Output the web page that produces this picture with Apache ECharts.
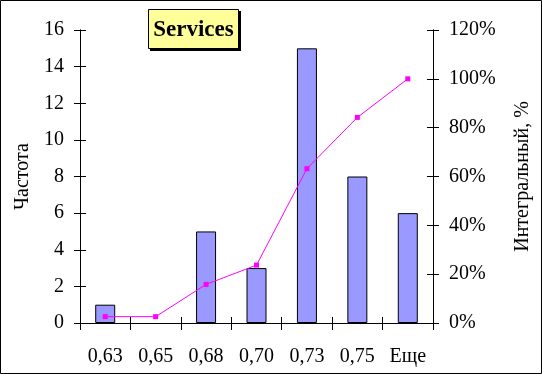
<!DOCTYPE html>
<html><head><meta charset="utf-8">
<script src="https://cdn.jsdelivr.net/npm/echarts@6/dist/echarts.min.js"></script>
<style>html,body{margin:0;padding:0;background:#fff}#c{width:542px;height:374px}</style>
</head><body><div id="c"></div>
<script>
const categories = ['0,63','0,65','0,68','0,70','0,73','0,75','Еще'];
const frequency = [1, 0, 5, 3, 15, 8, 6];
const cumulativePct = [2.6, 2.6, 15.8, 23.7, 63.2, 84.2, 100];
const leftTicks = {min: 0, max: 16, interval: 2};
const rightTicks = {min: 0, max: 120, interval: 20};
const titleText = 'Services';
const leftName = 'Частота';
const rightName = 'Интегральный, %';

const FONT = 'Liberation Serif';
const lbl = {color: '#000', fontFamily: FONT, fontSize: 20};
const line = {show: true, lineStyle: {color: '#000', width: 1}};
const barData = frequency.map(v => v === 0 ? {value: v, itemStyle: {borderWidth: 0, opacity: 0}} : v);
const chart = echarts.init(document.getElementById('c'), null, {renderer: 'canvas'});
chart.setOption({
  animation: false,
  grid: {left: 80, right: 109, top: 30, bottom: 51},
  xAxis: [
    {type: 'category', data: categories, boundaryGap: true, axisLine: line, z: 5,
     axisTick: {show: true, alignWithLabel: false, length: 7, lineStyle: {color: '#000'}},
     axisLabel: Object.assign({margin: 24}, lbl), splitLine: {show: false}},
    {type: 'category', data: categories, boundaryGap: true, position: 'bottom', axisLine: line, z: 5,
     axisTick: {show: true, inside: true, length: 6, lineStyle: {color: '#000'}},
     axisLabel: {show: false}, splitLine: {show: false}}
  ],
  yAxis: [
    Object.assign({type: 'value', position: 'left', axisLine: line,
     axisTick: {show: true, length: 6, lineStyle: {color: '#000'}},
     axisLabel: Object.assign({margin: 16}, lbl), splitLine: {show: false},
     name: leftName, nameLocation: 'middle', nameRotate: 90, nameGap: 44,
     nameTextStyle: {color: '#000', fontFamily: FONT, fontSize: 20}}, leftTicks),
    Object.assign({type: 'value', position: 'right', axisLine: line,
     axisTick: {show: true, length: 6, lineStyle: {color: '#000'}},
     axisLabel: Object.assign({margin: 16, formatter: '{value}%'}, lbl), splitLine: {show: false},
     name: rightName, nameLocation: 'middle', nameRotate: 90, nameGap: 80,
     nameTextStyle: {color: '#000', fontFamily: FONT, fontSize: 20}}, rightTicks),
    Object.assign({type: 'value', position: 'left', axisLine: line,
     axisTick: {show: true, inside: true, length: 6, lineStyle: {color: '#000'}},
     axisLabel: {show: false}, splitLine: {show: false}}, leftTicks),
    Object.assign({type: 'value', position: 'right', axisLine: line,
     axisTick: {show: true, inside: true, length: 6, lineStyle: {color: '#000'}},
     axisLabel: {show: false}, splitLine: {show: false}}, rightTicks)
  ],
  series: [
    {type: 'bar', data: barData, xAxisIndex: 0, yAxisIndex: 0, barWidth: 20,
     itemStyle: {color: '#9999FF', borderColor: '#000', borderWidth: 1}},
    {type: 'line', data: cumulativePct, xAxisIndex: 0, yAxisIndex: 1,
     symbol: 'rect', symbolSize: 5, lineStyle: {color: '#FF00FF', width: 1},
     itemStyle: {color: '#FF00FF'}}
  ],
  graphic: [
    {type: 'rect', shape: {x: 0.5, y: 0.5, width: 541, height: 373},
     style: {fill: 'none', stroke: '#000', lineWidth: 1}, z: 100},
    {type: 'rect', shape: {x: 150, y: 11, width: 91, height: 40},
     style: {fill: '#000'}, z: 100},
    {type: 'rect', shape: {x: 148.5, y: 9.5, width: 90, height: 39},
     style: {fill: '#FFFF99', stroke: '#000', lineWidth: 1}, z: 101},
    {type: 'text', x: 193.5, y: 30,
     style: {text: titleText, fill: '#000', font: 'bold 23px "Liberation Serif"', align: 'center', verticalAlign: 'middle'}, z: 102}
  ]
});
</script></body></html>
